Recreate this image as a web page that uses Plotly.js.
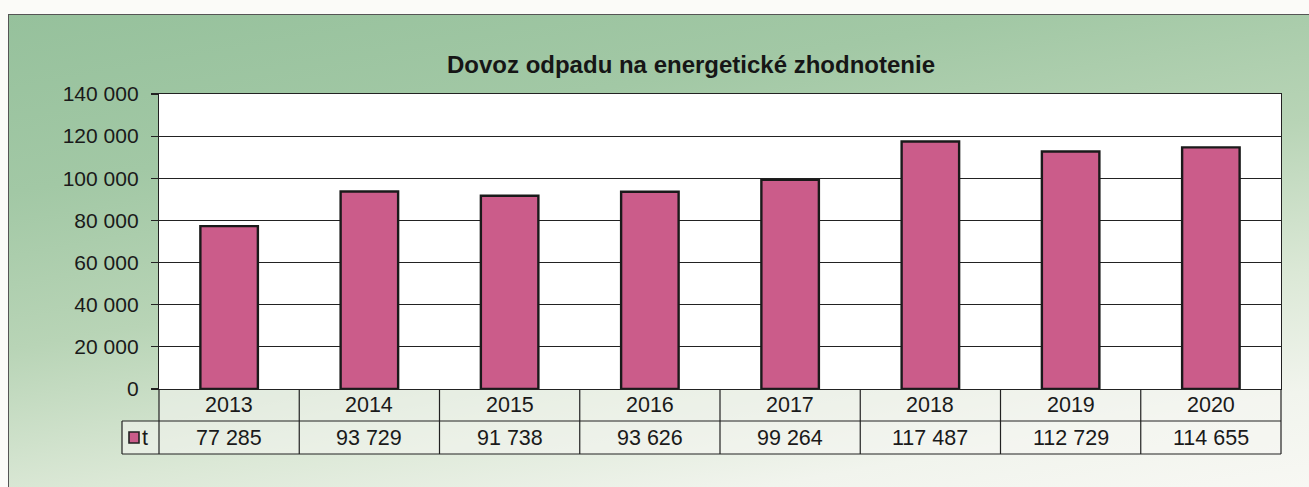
<!DOCTYPE html>
<html>
<head>
<meta charset="utf-8">
<script src="https://cdn.plot.ly/plotly-3.0.1.min.js"></script>
<style>
html,body{margin:0;padding:0;background:#fbfbf8;}
#bg{position:absolute;left:8px;top:14px;width:1310px;height:480px;border-left:1.5px solid #555;border-top:1.5px solid #555;
background:linear-gradient(170deg,#96c19c 0%,#a2c8a5 25%,#b8d4b6 47%,#dbe8d6 68%,#f1f4ed 85%,#f8f8f4 100%);}
#chart{position:absolute;left:0;top:0;width:1309px;height:487px;}
</style>
</head>
<body>
<div id="bg"></div>
<div id="chart"></div>
<script>
const titleText = 'Dovoz odpadu na energetické zhodnotenie';
const years = ['2013','2014','2015','2016','2017','2018','2019','2020'];
const tons = [77285, 93729, 91738, 93626, 99264, 117487, 112729, 114655];
const seriesName = 't';
const yTicks = [0, 20000, 40000, 60000, 80000, 100000, 120000, 140000];

function fmt(v){ return String(v).replace(/\B(?=(\d{3})+(?!\d))/g, ' '); }

const W = 1309, H = 487;
const mL = 159, mR = 28, mT = 94, mB = 98;
const plotW = W - mL - mR, plotH = H - mT - mB;
const px2py = p => (H - mB - p) / plotH;   // pixel y -> paper y
const px2px = p => (p - mL) / plotW;       // pixel x -> paper x
const row1 = px2py(421), row2 = px2py(454);
const legL = px2px(122);

const fontFam = 'Arial, "Liberation Sans", sans-serif';
const tableFont = {family:fontFam, size:21.5, color:'#1a1a1a'};
const shapes = [];
const annotations = [];
const lineStyle = {color:'#222', width:1.2};

// table horizontal lines
shapes.push({type:'line', xref:'paper', yref:'paper', x0:0, x1:1, y0:row1, y1:row1, line:lineStyle});
shapes.push({type:'line', xref:'paper', yref:'paper', x0:legL, x1:1, y0:row2, y1:row2, line:lineStyle});
shapes.push({type:'line', xref:'paper', yref:'paper', x0:legL, x1:0, y0:row1, y1:row1, line:lineStyle});
// verticals
shapes.push({type:'line', xref:'paper', yref:'paper', x0:legL, x1:legL, y0:row1, y1:row2, line:lineStyle});
shapes.push({type:'line', xref:'paper', yref:'paper', x0:0, x1:0, y0:0, y1:row2, line:lineStyle});
shapes.push({type:'line', xref:'paper', yref:'paper', x0:1, x1:1, y0:0, y1:row2, line:lineStyle});
for (let i = 1; i < years.length; i++) {
  shapes.push({type:'line', xref:'x', yref:'paper', x0:i-0.5, x1:i-0.5, y0:0, y1:row2, line:lineStyle});
}
// table cell fill
shapes.push({type:'rect', xref:'paper', yref:'paper', x0:0, x1:1, y0:row2, y1:0, fillcolor:'rgba(246,246,242,0.55)', line:{width:0}, layer:'below'});
shapes.push({type:'rect', xref:'paper', yref:'paper', x0:legL, x1:0, y0:row2, y1:row1, fillcolor:'rgba(246,246,242,0.55)', line:{width:0}, layer:'below'});
// legend key
shapes.push({type:'rect', xref:'paper', yref:'paper', x0:px2px(129), x1:px2px(139), y0:px2py(443), y1:px2py(432), fillcolor:'#cb5c8a', line:{color:'#222', width:1.6}});

years.forEach((yr, i) => {
  annotations.push({x:i, xref:'x', y:(0+row1)/2, yref:'paper', text:yr, showarrow:false, font:tableFont, yanchor:'middle'});
  annotations.push({x:i, xref:'x', y:(row1+row2)/2, yref:'paper', text:fmt(tons[i]), showarrow:false, font:tableFont, yanchor:'middle'});
});
annotations.push({x:px2px(140), xref:'paper', y:(row1+row2)/2, yref:'paper', text:seriesName, showarrow:false, xanchor:'left', font:tableFont, yanchor:'middle'});

const data = [{
  type:'bar', x:years, y:tons, name:seriesName,
  marker:{color:'#cb5c8a', line:{color:'#1a1a1a', width:2.4}},
  hoverinfo:'x+y'
}];

const layout = {
  width:W, height:H,
  margin:{l:mL, r:mR, t:mT, b:mB, pad:0},
  paper_bgcolor:'rgba(0,0,0,0)',
  plot_bgcolor:'#ffffff',
  separators:', ',
  showlegend:false,
  bargap:0.59,
  title:{text:'<b>'+titleText+'</b>', x:691/W, xref:'container', xanchor:'center', y:1-65/H, yanchor:'middle', font:{family:fontFam, size:24, color:'#161616'}},
  xaxis:{type:'category', categoryarray:years, range:[-0.5, years.length-0.5], autorange:false, showticklabels:false, ticks:'', showgrid:false, showline:true, linecolor:'#222', linewidth:1.2, mirror:true, zeroline:false, fixedrange:true},
  yaxis:{range:[0,140000], autorange:false, tickvals:yTicks, ticktext:yTicks.map(fmt), ticks:'outside', ticklen:7, tickcolor:'#222', tickwidth:1.2,
         showgrid:true, gridcolor:'#222', gridwidth:1.2, showline:true, linecolor:'#222', linewidth:1.2, mirror:true, zeroline:false,
         tickfont:{family:fontFam, size:21, color:'#1a1a1a'}, ticklabelstandoff:8, fixedrange:true},
  shapes:shapes,
  annotations:annotations
};

Plotly.newPlot('chart', data, layout, {displayModeBar:false, staticPlot:true});
</script>
</body>
</html>
